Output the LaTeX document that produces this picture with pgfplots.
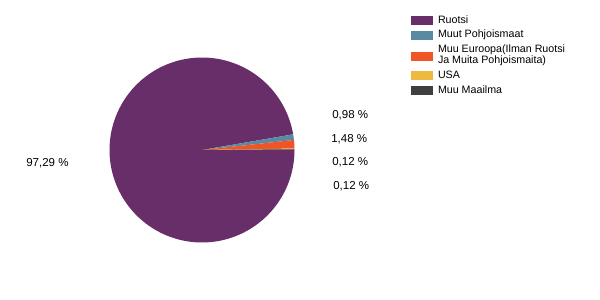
\documentclass[border=0pt]{standalone}
\usepackage{pgfplots}
\usepackage{pgfplotstable}
\pgfplotsset{compat=1.18}
\usepackage{fontspec}
\setmainfont{Liberation Sans}
\definecolor{cRuotsi}{RGB}{103,46,106}
\definecolor{cMuut}{RGB}{89,138,164}
\definecolor{cEur}{RGB}{239,85,39}
\definecolor{cUSA}{RGB}{237,185,63}
\definecolor{cMaailma}{RGB}{63,63,63}
\pgfplotstableread{
pct
97.29
0.98
1.48
0.12
0.12
}\piedata
\pgfplotstablegetelem{0}{pct}\of\piedata \let\pA\pgfplotsretval
\pgfplotstablegetelem{1}{pct}\of\piedata \let\pB\pgfplotsretval
\pgfplotstablegetelem{2}{pct}\of\piedata \let\pC\pgfplotsretval
\pgfplotstablegetelem{3}{pct}\of\piedata \let\pD\pgfplotsretval
\pgfplotstablegetelem{4}{pct}\of\piedata \let\pE\pgfplotsretval
\pgfmathsetmacro{\aA}{-3.6*\pA}
\pgfmathsetmacro{\aB}{\aA-3.6*\pB}
\pgfmathsetmacro{\aC}{\aB-3.6*\pC}
\pgfmathsetmacro{\aD}{\aC-3.6*\pD}
\pgfmathsetmacro{\aE}{\aD-3.6*\pE}
\def\cx{202}\def\cy{150}\def\rr{92.5}
\begin{document}
\begin{tikzpicture}
\begin{axis}[
  scale only axis, width=15cm, height=7.5cm,
  xmin=0, xmax=600, ymin=0, ymax=300,
  hide axis, clip=false,
  legend cell align=left,
  legend style={at={(axis cs:411,284.5)}, anchor=north west, draw=none, fill=none,
    inner sep=0pt, outer sep=0pt, row sep=2.6pt,
    /tikz/every even column/.style={column sep=0pt},
    nodes={inner xsep=0.125cm, inner ysep=0pt, align=left,
      font=\fontsize{7.6}{7.6}\selectfont, text height=5.8pt, text depth=1.8pt}},
  legend image code/.code={\fill[#1] (0cm,-0.1125cm) rectangle (0.55cm,0.1125cm);},
]
\path (axis cs:0,0) rectangle (axis cs:600,300);
\addplot[fill=cRuotsi, draw=none, domain=0:\aA, samples=180, variable=\t]
  ({\cx+\rr*cos(\t)},{\cy+\rr*sin(\t)}) -- (axis cs:\cx,\cy) -- cycle;
\addlegendentry{Ruotsi}
\addplot[fill=cMuut, draw=none, domain=\aA:\aB, samples=5, variable=\t]
  ({\cx+\rr*cos(\t)},{\cy+\rr*sin(\t)}) -- (axis cs:\cx,\cy) -- cycle;
\addlegendentry{Muut Pohjoismaat}
\addplot[fill=cEur, draw=none, domain=\aB:\aC, samples=5, variable=\t,
  legend image post style={yshift=-0.5pt}]
  ({\cx+\rr*cos(\t)},{\cy+\rr*sin(\t)}) -- (axis cs:\cx,\cy) -- cycle;
\addlegendentry[text height=13.4pt, text depth=2.8pt]{Muu Euroopa(Ilman Ruotsi\\Ja Muita Pohjoismaita)}
\addplot[fill=cUSA, draw=none, domain=\aC:\aD, samples=3, variable=\t]
  ({\cx+\rr*cos(\t)},{\cy+\rr*sin(\t)}) -- (axis cs:\cx,\cy) -- cycle;
\addlegendentry{USA}
\addplot[fill=cMaailma, draw=none, domain=\aD:\aE, samples=3, variable=\t]
  ({\cx+\rr*cos(\t)},{\cy+\rr*sin(\t)}) -- (axis cs:\cx,\cy) -- cycle;
\addlegendentry{Muu Maailma}
\begin{scope}[every node/.style={font=\fontsize{8.2}{9}\selectfont, inner sep=0pt, anchor=west}]
\node at (axis cs:332,185) {0,98 \%};
\node at (axis cs:331,161) {1,48 \%};
\node at (axis cs:332,137.7) {0,12 \%};
\node at (axis cs:333,114) {0,12 \%};
\node at (axis cs:26,137) {97,29 \%};
\end{scope}
\end{axis}
\end{tikzpicture}
\end{document}
